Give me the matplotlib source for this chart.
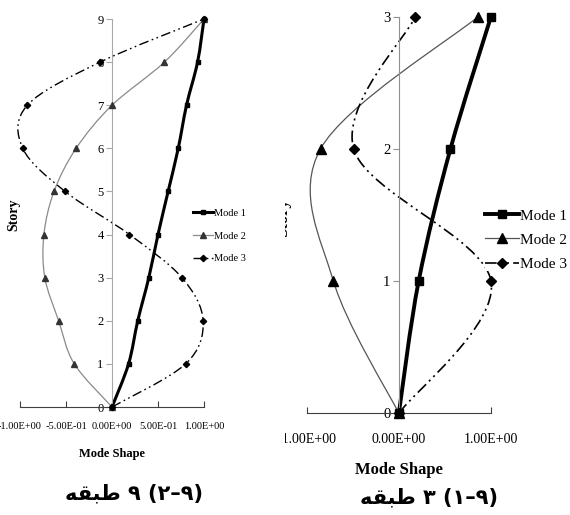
import numpy as np
import matplotlib
matplotlib.use('Agg')
import matplotlib.pyplot as plt
from matplotlib.path import Path
from matplotlib.patches import PathPatch, Rectangle
from matplotlib.lines import Line2D
from matplotlib.ticker import FuncFormatter

plt.rcParams['font.family'] = ['Liberation Serif', 'DejaVu Serif']

# 9-story building (left)
stories9 = [0, 1, 2, 3, 4, 5, 6, 7, 8, 9]
mode1_9 = [0, 0.18, 0.28, 0.40, 0.50, 0.61, 0.72, 0.81, 0.93, 1.0]
mode2_9 = [0, -0.41, -0.58, -0.73, -0.74, -0.63, -0.39, 0.0, 0.57, 1.0]
mode3_9 = [0, 0.80, 0.99, 0.76, 0.19, -0.51, -0.97, -0.92, -0.13, 1.0]
xticks9 = [-1.0, -0.5, 0.0, 0.5, 1.0]

# 3-story building (right)
stories3 = [0, 1, 2, 3]
mode1_3 = [0, 0.215, 0.56, 1.0]
mode2_3 = [0, -0.71, -0.85, 0.86]
mode3_3 = [0, 1.0, -0.49, 0.18]
xticks3 = [-1.0, 0.0, 1.0]

labels = ['Mode 1', 'Mode 2', 'Mode 3']
# captions in visual order (presentation forms, since matplotlib has no bidi shaping)
tabaqe = '\uFEEA\uFED8\uFE92\uFEC3'
caption9 = tabaqe + ' \u06F9 (\u06F2\u2013\u06F9)'
caption3 = tabaqe + ' \u06F3 (\u06F1\u2013\u06F9)'


def smooth_path(xs, ys):
    # excel-like smoothed line: catmull-rom segments as cubic beziers
    pts = np.column_stack([xs, ys]).astype(float)
    n = len(pts)
    verts = [pts[0]]
    codes = [Path.MOVETO]
    for i in range(n - 1):
        p0 = pts[max(i - 1, 0)]
        p1 = pts[i]
        p2 = pts[i + 1]
        p3 = pts[min(i + 2, n - 1)]
        verts += [p1 + (p2 - p0) / 6, p2 - (p3 - p1) / 6, p2]
        codes += [Path.CURVE4] * 3
    return Path(verts, codes)


def draw_panel(ax, stories, modes, styles, xticks, tick_fs, ytick_fs, spine_col, xpad):
    for vals, st in zip(modes, styles):
        ax.add_patch(PathPatch(smooth_path(vals, stories), fill=False, lw=st['lw'],
                               ec=st['color'], ls=st['ls'], clip_on=False, zorder=2))
        ax.plot(vals, stories, linestyle='none', marker=st['marker'], ms=st['ms'],
                color=st['mcolor'], clip_on=False, zorder=3)
    ax.set_xlim(-1, 1)
    ax.set_ylim(0, stories[-1])
    ax.spines['top'].set_visible(False)
    ax.spines['right'].set_visible(False)
    ax.spines['left'].set_position(('data', 0))
    ax.spines['left'].set_color(spine_col)
    ax.spines['bottom'].set_color('#404040')
    ax.set_xticks(xticks)
    ax.set_yticks(stories)
    ax.xaxis.set_major_formatter(FuncFormatter(lambda v, p: f'{v:.2E}'))
    ax.tick_params(axis='x', direction='in', length=4, color='#404040',
                   labelsize=tick_fs, pad=xpad)
    ax.tick_params(axis='y', direction='out', length=4, color=spine_col,
                   labelsize=ytick_fs, pad=2)
    ax.patch.set_alpha(0)


def handles(styles):
    return [Line2D([], [], color=st['color'], lw=st['lw'], ls=st['ls'],
                   marker=st['marker'], ms=st['ms'], mfc=st['mcolor'],
                   mec=st['mcolor']) for st in styles]


fig = plt.figure(figsize=(5.7, 5.15), dpi=100)
W, H = 570.0, 515.0

dashdotdot = (0, (7, 2.5, 1.2, 2.5, 1.2, 2.5))

# ---- left panel ----
ax1 = fig.add_axes([20 / W, 1 - 407 / H, 184 / W, 388 / H])
styles9 = [
    dict(color='black', lw=2.2, ls='-', marker='s', ms=3.5, mcolor='black'),
    dict(color='#8a8a8a', lw=0.9, ls='-', marker='^', ms=4, mcolor='#333333'),
    dict(color='black', lw=1.0, ls=dashdotdot, marker='D', ms=3.2, mcolor='black'),
]
draw_panel(ax1, stories9, [mode1_9, mode2_9, mode3_9], styles9, xticks9, 7.5, 9,
           '#a8a8a8', 11)
ax1.set_xlabel('Mode Shape', fontsize=9, fontweight='bold')
ax1.xaxis.set_label_coords(0.5, -0.105)
fig.text(14 / W, 1 - 215 / H, 'Story', rotation=90, fontsize=10, fontweight='bold',
         ha='center', va='center')
ax1.legend(handles(styles9), labels, loc='center left',
           bbox_to_anchor=(193 / W, 1 - 236 / H), bbox_transform=fig.transFigure,
           frameon=False, fontsize=7.5, handlelength=1.9, handletextpad=0.15,
           labelspacing=1.3, borderpad=0, borderaxespad=0)

# ---- right panel ----
ax2 = fig.add_axes([306.7 / W, 1 - 413.3 / H, 184.3 / W, 396.6 / H])
styles3 = [
    dict(color='black', lw=2.8, ls='-', marker='s', ms=6, mcolor='black'),
    dict(color='#555555', lw=0.9, ls='-', marker='^', ms=6.5, mcolor='black'),
    dict(color='black', lw=1.2, ls=dashdotdot, marker='D', ms=5.5, mcolor='black'),
]
draw_panel(ax2, stories3, [mode1_3, mode2_3, mode3_3], styles3, xticks3, 10, 10.5,
           '#909090', 14)
ax2.set_xlabel('Mode Shape', fontsize=12, fontweight='bold')
ax2.xaxis.set_label_coords(0.5, -0.124)
ax2.legend(handles(styles3), labels, loc='center left',
           bbox_to_anchor=(485 / W, 1 - 240 / H), bbox_transform=fig.transFigure,
           frameon=True, facecolor='white', edgecolor='none', framealpha=1,
           fancybox=False, fontsize=11, handlelength=2.2, handletextpad=0.1,
           labelspacing=0.68, borderpad=0, borderaxespad=0)

# right y title is cut off by the left chart, only its edge shows
fig.text(291 / W, 1 - 218 / H, 'Story', rotation=90, fontsize=12, fontweight='bold',
         ha='right', va='center', zorder=3)
fig.add_artist(Rectangle((262 / W, 0.05), 23 / W, 0.9, transform=fig.transFigure,
                         facecolor='white', edgecolor='none', zorder=5))

# captions
fig.text(134 / W, 1 - 493 / H, caption9, fontsize=15, fontweight='bold',
         family='DejaVu Sans', ha='center', va='center')
fig.text(429 / W, 1 - 497 / H, caption3, fontsize=15, fontweight='bold',
         family='DejaVu Sans', ha='center', va='center')

fig.savefig('out.png', dpi=100)
